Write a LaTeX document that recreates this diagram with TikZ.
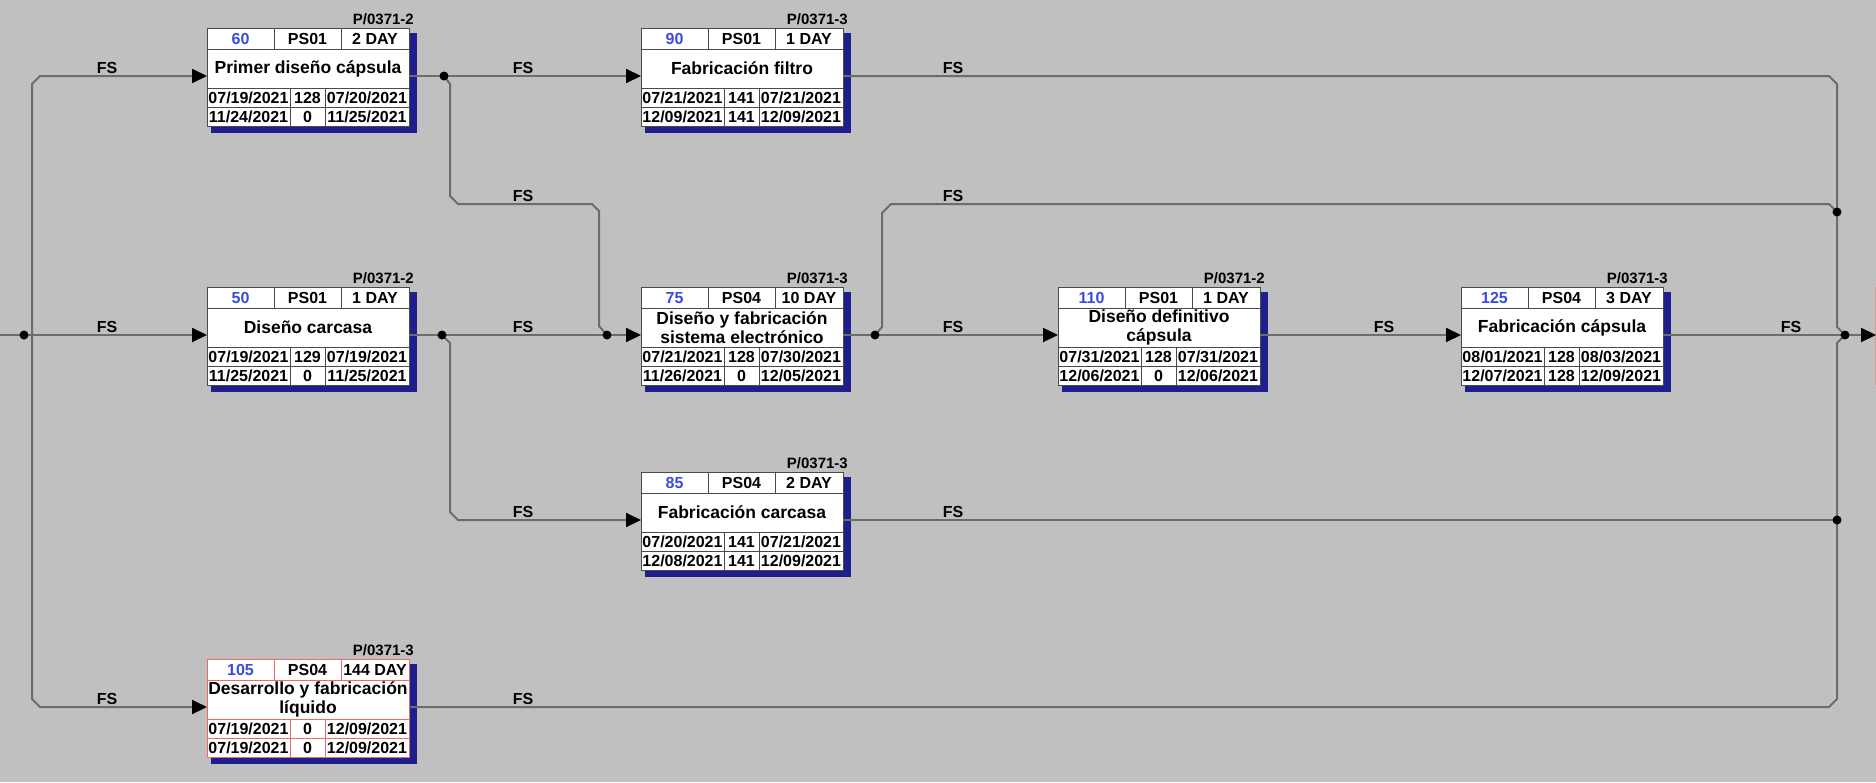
\documentclass[tikz,border=0pt]{standalone}
\usepackage{fontspec}
\setmainfont{Liberation Sans}
\usetikzlibrary{arrows.meta}

\definecolor{bgrey}{HTML}{C0C0C0}
\definecolor{shadowblue}{HTML}{1E1E8C}
\definecolor{numblue}{HTML}{3A4CDC}
\definecolor{linkgrey}{HTML}{6C6C6C}
\definecolor{boxline}{HTML}{4A4A4A}
\definecolor{critline}{HTML}{EE6A6A}

\tikzset{
  link/.style = {linkgrey, line width=2pt},
  linkarrow/.style = {link, -{Triangle[length=15pt,width=14pt,color=black,fill=black]}},
  actcell/.style = {rectangle, anchor=north west, minimum width=202pt, minimum height=98pt,
                    inner sep=0pt, fill=white, line width=1pt},
  numtxt/.style = {inner sep=0pt, text=numblue, font=\bfseries\fontsize{16}{18}\selectfont},
  hdtxt/.style = {inner sep=0pt, font=\bfseries\fontsize{16}{18}\selectfont},
  codetxt/.style = {inner sep=0pt, anchor=base east, font=\bfseries\fontsize{15}{17}\selectfont},
  titletxt/.style = {inner sep=0pt, align=center, font=\bfseries\fontsize{17.5}{19}\selectfont},
  datetxt/.style = {inner sep=0pt, font=\bfseries\fontsize{16}{18}\selectfont},
  fslbl/.style = {inner sep=0pt, anchor=base, font=\bfseries\fontsize{16}{18}\selectfont}
}

% activity box: [line colour] name, left, top, number, resource, duration, code, title
\newcommand{\actbox}[9][boxline]{%
  \def\bx{#3}\def\by{#4}\def\bname{#2}%
  \fill[shadowblue] (#3+4,#4+5) rectangle (#3+210,#4+105);
  \node[actcell, draw=#1] (#2) at (#3,#4) {};
  \draw[#1, line width=1pt] (#3,#4+21) -- ++(202,0) (#3,#4+60) -- ++(202,0)
    (#3,#4+79) -- ++(202,0) (#3+67,#4) -- ++(0,21) (#3+134,#4) -- ++(0,21)
    (#3+83,#4+60) -- ++(0,38) (#3+118,#4+60) -- ++(0,38);
  \node[numtxt] (#2-num) at (#3+33.5,#4+11) {#5};
  \node[hdtxt] (#2-res) at (#3+100.5,#4+11) {#6};
  \node[hdtxt] (#2-dur) at (#3+168,#4+11) {#7};
  \node[codetxt] (#2-code) at (#3+207,#4-4) {#8};
  \node[titletxt] (#2-title) at (#3+101,#4+40.5) {#9};
  \coordinate (#2-in) at (#3,#4+48);
  \coordinate (#2-out) at (#3+202,#4+48);
}
% dates of the last box: early start, float, early finish, late start, float, late finish
\newcommand{\actdates}[6]{%
  \node[datetxt] (\bname-es) at (\bx+41.5,\by+70) {#1};
  \node[datetxt] (\bname-tf) at (\bx+100.5,\by+70) {#2};
  \node[datetxt] (\bname-ef) at (\bx+160,\by+70) {#3};
  \node[datetxt] (\bname-ls) at (\bx+41.5,\by+89) {#4};
  \node[datetxt] (\bname-ff) at (\bx+100.5,\by+89) {#5};
  \node[datetxt] (\bname-lf) at (\bx+160,\by+89) {#6};
}

\begin{document}
\begin{tikzpicture}[x=1pt, y=-1pt]
	\useasboundingbox (0,0) rectangle (1876,782);
	\fill[bgrey] (0,0) rectangle (1876,782);

	\actbox{b60}{207}{28}{60}{PS01}{2 DAY}{P/0371-2}{Primer diseño cápsula}
	\actdates{07/19/2021}{128}{07/20/2021}{11/24/2021}{0}{11/25/2021}
	\actbox{b90}{641}{28}{90}{PS01}{1 DAY}{P/0371-3}{Fabricación filtro}
	\actdates{07/21/2021}{141}{07/21/2021}{12/09/2021}{141}{12/09/2021}
	\actbox{b50}{207}{287}{50}{PS01}{1 DAY}{P/0371-2}{Diseño carcasa}
	\actdates{07/19/2021}{129}{07/19/2021}{11/25/2021}{0}{11/25/2021}
	\actbox{b75}{641}{287}{75}{PS04}{10 DAY}{P/0371-3}{Diseño y fabricación\\sistema electrónico}
	\actdates{07/21/2021}{128}{07/30/2021}{11/26/2021}{0}{12/05/2021}
	\actbox{b110}{1058}{287}{110}{PS01}{1 DAY}{P/0371-2}{Diseño definitivo\\cápsula}
	\actdates{07/31/2021}{128}{07/31/2021}{12/06/2021}{0}{12/06/2021}
	\actbox{b125}{1461}{287}{125}{PS04}{3 DAY}{P/0371-3}{Fabricación cápsula}
	\actdates{08/01/2021}{128}{08/03/2021}{12/07/2021}{128}{12/09/2021}
	\actbox{b85}{641}{472}{85}{PS04}{2 DAY}{P/0371-3}{Fabricación carcasa}
	\actdates{07/20/2021}{141}{07/21/2021}{12/08/2021}{141}{12/09/2021}
	\actbox[critline]{b105}{207}{659}{105}{PS04}{144 DAY}{P/0371-3}{Desarrollo y fabricación\\líquido}
	\actdates{07/19/2021}{0}{12/09/2021}{07/19/2021}{0}{12/09/2021}

	% cut-off box at the right edge
	\draw[critline!45!bgrey, line width=1pt] (1875.5,287) -- (1875.5,385);

	\coordinate (src) at (0,335);
	\coordinate (nxt) at (1876,335);
	\coordinate (lt) at (32,335);
	\coordinate (s0) at (24,335);
	\coordinate (j1) at (444,76);
	\coordinate (j2) at (442,335);
	\coordinate (j3) at (607,335);
	\coordinate (j4) at (875,335);
	\coordinate (j5) at (1837,212);
	\coordinate (j6) at (1837,520);
	\coordinate (jend) at (1845,335);

	% start
	\draw[linkarrow] (src) -- (b50-in);
	\draw[linkarrow] (lt) -- ++(0,-251) -- ++(8,-8) -- (b60-in);
	\draw[linkarrow] (lt) -- ++(0,364) -- ++(8,8) -- (b105-in);
	% first row
	\draw[link] (b60-out) -- (j1);
	\draw[linkarrow] (j1) -- (b90-in);
	\draw[link] (j1) -- ++(6,8) -- ++(0,112) -- ++(8,8) -- ++(134,0) -- ++(7,7) -- ++(0,115) -- (j3);
	% second row
	\draw[link] (b50-out) -- (j2) -- (j3);
	\draw[linkarrow] (j3) -- (b75-in);
	\draw[linkarrow] (j2) -- ++(8,8) -- ++(0,169) -- ++(8,8) -- (b85-in);
	\draw[link] (b75-out) -- (j4);
	\draw[linkarrow] (j4) -- (b110-in);
	\draw[link] (j4) -- ++(7,-8) -- ++(0,-114) -- ++(9,-9) -- ++(938,0) -- (j5);
	\draw[linkarrow] (b110-out) -- (b125-in);
	\draw[link] (b125-out) -- (jend);
	\draw[linkarrow] (jend) -- (nxt);
	% end
	\draw[link] (b90-out) -- ++(986,0) -- ++(8,8) -- ++(0,243) -- (jend);
	\draw[link] (b105-out) -- ++(1420,0) -- ++(8,-8) -- ++(0,-356) -- (jend);
	\draw[link] (b85-out) -- (j6);

	\foreach \j in {s0,j1,j2,j3,j4,j5,j6,jend}
		\fill (\j) circle (4.5pt);

	\foreach \fx/\fy [count=\k] in {107/76, 523/76, 953/76, 523/204, 953/204,
		107/335, 523/335, 953/335, 1384/335, 1791/335, 523/520, 953/520, 107/707, 523/707}
		\node[fslbl] (fs\k) at (\fx,\fy-3) {FS};
\end{tikzpicture}
\end{document}
